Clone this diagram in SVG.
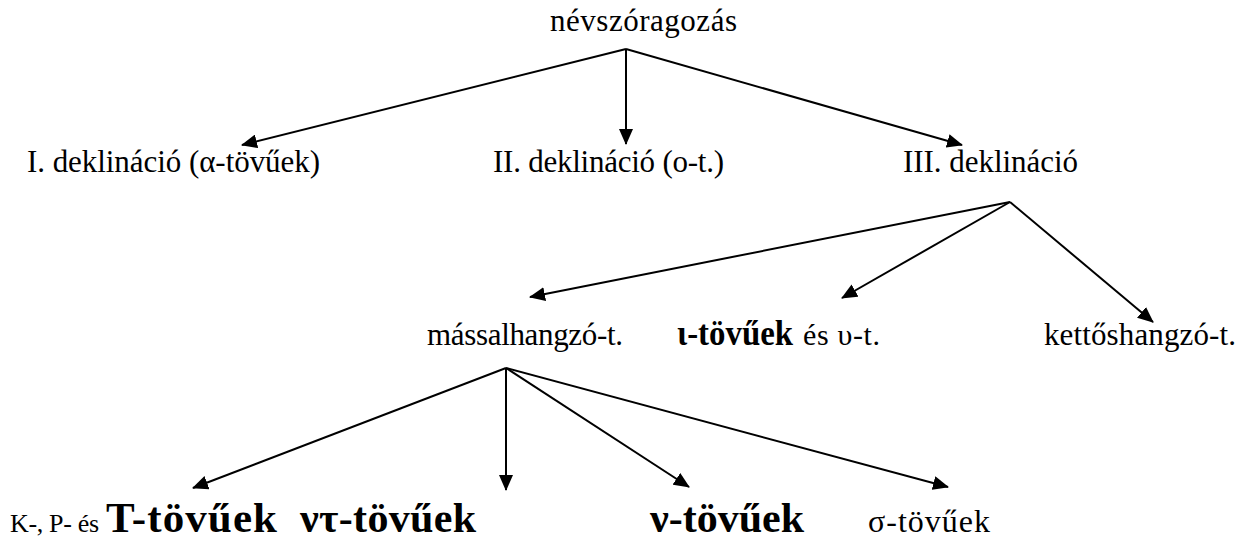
<svg xmlns="http://www.w3.org/2000/svg" width="1238" height="542" viewBox="0 0 1238 542">
<style>
text{font-family:'Liberation Serif','Times New Roman',serif;fill:#000;}
.n{font-size:31px;}
.b{font-weight:bold;}
.c line{stroke:#000;stroke-width:2;marker-end:url(#ah);}
</style>
<defs>
<marker id="ah" markerUnits="userSpaceOnUse" markerWidth="16" markerHeight="14" refX="15" refY="7" orient="auto">
<path d="M0,0 L16,7 L0,14 Z" fill="#000"/>
</marker>
</defs>
<rect width="1238" height="542" fill="#fff"/>
<g class="c" id="connectors">
<line x1="626" y1="49" x2="242" y2="145"/>
<line x1="626" y1="49" x2="626" y2="144"/>
<line x1="626" y1="49" x2="962" y2="145"/>
<line x1="1010" y1="202" x2="530" y2="297"/>
<line x1="1010" y1="202" x2="842" y2="298"/>
<line x1="1010" y1="202" x2="1153" y2="322"/>
<line x1="506" y1="368" x2="193" y2="488"/>
<line x1="506" y1="368" x2="506" y2="490"/>
<line x1="506" y1="368" x2="689" y2="487"/>
<line x1="506" y1="368" x2="948" y2="487"/>
</g>
<g id="nevszoragozas"><text class="n" x="550" y="31" font-size="32" textLength="187">névszóragozás</text></g>
<g id="decl1"><text class="n" x="27" y="172" textLength="293">I. deklináció (α-tövűek)</text></g>
<g id="decl2"><text class="n" x="493" y="172" textLength="231">II. deklináció (o-t.)</text></g>
<g id="decl3"><text class="n" x="903" y="172" textLength="175">III. deklináció</text></g>
<g id="massalhangzo"><text class="n" x="427" y="345" textLength="196">mássalhangzó-t.</text></g>
<g id="i-tovuek"><text class="b" x="677" y="345" font-size="36" textLength="116" lengthAdjust="spacingAndGlyphs">ι-tövűek</text><text x="803" y="345" font-size="30" textLength="77">és υ-t.</text></g>
<g id="kettoshangzo"><text class="n" x="1044" y="345" textLength="192">kettőshangzó-t.</text></g>
<g id="kpt"><text x="10" y="532" font-size="26" textLength="89">K-, P- és</text><text class="b" x="106" y="532" font-size="43" textLength="171">T-tövűek</text></g>
<g id="nt"><text class="b" x="300" y="532" font-size="42" textLength="176">ντ-tövűek</text></g>
<g id="n"><text class="b" x="650" y="532" font-size="42" textLength="154">ν-tövűek</text></g>
<g id="s"><text x="868" y="532" font-size="32" textLength="122">σ-tövűek</text></g>
</svg>
